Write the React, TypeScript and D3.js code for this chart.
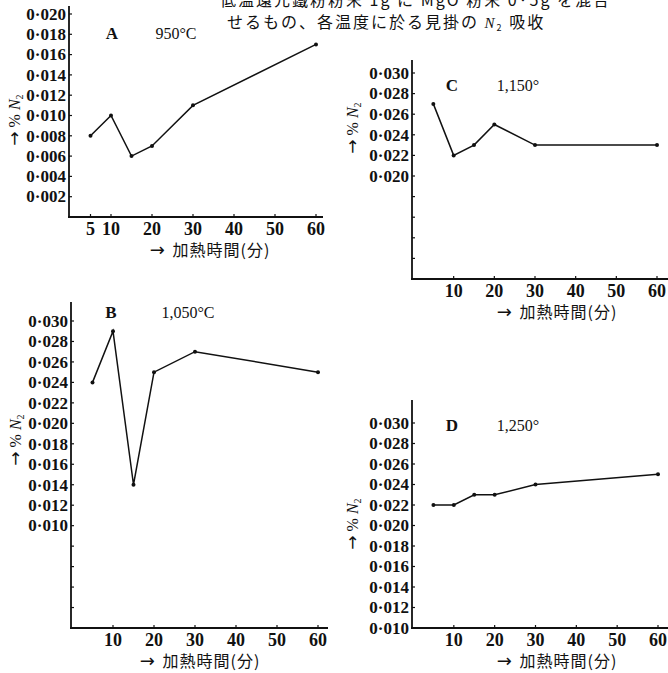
import React from 'react';
import * as d3 from 'd3';

const width = 668;
const height = 673;

// heating time (minutes) shared by all four panels
const minutes = [5, 10, 15, 20, 30, 60];

// apparent N2 absorption (%) per temperature
const n2A = [0.008, 0.010, 0.006, 0.007, 0.011, 0.017]; // 950°C
const n2B = [0.024, 0.029, 0.014, 0.025, 0.027, 0.025]; // 1,050°C
const n2C = [0.027, 0.022, 0.023, 0.025, 0.023, 0.023]; // 1,150°
const n2D = [0.022, 0.022, 0.023, 0.023, 0.024, 0.025]; // 1,250°

const xTicksA = [5, 10, 20, 30, 40, 50, 60];
const xTicksOther = [10, 20, 30, 40, 50, 60];
const yTicksA = [0.002, 0.004, 0.006, 0.008, 0.010, 0.012, 0.014, 0.016, 0.018, 0.020];
const yTicksB = [0.002, 0.004, 0.006, 0.008, 0.010, 0.012, 0.014, 0.016, 0.018, 0.020, 0.022, 0.024, 0.026, 0.028, 0.030];
const yTicksC = [0.012, 0.014, 0.016, 0.018, 0.020, 0.022, 0.024, 0.026, 0.028, 0.030];
const yTicksD = [0.010, 0.012, 0.014, 0.016, 0.018, 0.020, 0.022, 0.024, 0.026, 0.028, 0.030];

const titleLine1 = '低温還元鐵粉粉末 1g に MgO 粉末 0·5g を混合';
const titleLine2a = 'せるもの、各温度に於る見掛の ';
const titleLine2b = ' 吸收';
const xLabel = '加熱時間(分)';

const serif = '"Liberation Serif", "DejaVu Serif", serif';
const cjk = '"Noto Sans CJK JP", sans-serif';
const arrowFont = '"DejaVu Sans", sans-serif';

const fmt = (v: number) => '0·' + d3.format('03d')(Math.round(v * 1000));

function Panel(props: any) {
  const { values, xRange, yDomain, yRange, axisTop, axisRight, xTicks, yTicks, labelMin,
    letter, letterX, temp, tempX, labelY, yTitleX, yTitleY, xTitleX } = props;

  const x = d3.scaleLinear().domain([0, 60]).range(xRange);
  const y = d3.scaleLinear().domain(yDomain).range(yRange);
  const x0 = xRange[0] - 1;
  const y0 = yRange[0];
  const pts = minutes.map((m, i) => [x(m), y(values[i])] as [number, number]);
  const line = d3.line();

  return (
    <g>
      <line x1={x0} x2={x0} y1={axisTop} y2={y0 + 1} stroke="#111" strokeWidth={1.8} />
      <line x1={x0 - 1} x2={axisRight} y1={y0} y2={y0} stroke="#111" strokeWidth={1.8} />
      {yTicks.map((t: number) => (
        <g key={'y' + t}>
          <line x1={x0} x2={x0 + 3} y1={y(t)} y2={y(t)} stroke="#111" strokeWidth={1.2} />
          {t >= labelMin - 1e-9 &&
            <text x={x0 - 3} y={y(t)} dy="0.34em" textAnchor="end" fontFamily={serif}
              fontSize={17} fontWeight="bold" fill="#111">{fmt(t)}</text>}
        </g>
      ))}
      {xTicks.map((t: number) => (
        <g key={'x' + t}>
          <line x1={x(t)} x2={x(t)} y1={y0} y2={y0 - 3} stroke="#111" strokeWidth={1.2} />
          <text x={x(t)} y={y0 + 18} textAnchor="middle" fontFamily={serif} fontSize={18}
            fontWeight="bold" fill="#111">{t}</text>
        </g>
      ))}
      <path d={line(pts) || ''} fill="none" stroke="#111" strokeWidth={1.5} />
      {pts.map((p, i) => <circle key={i} cx={p[0]} cy={p[1]} r={2} fill="#111" />)}
      <text x={letterX} y={labelY} dy="0.35em" textAnchor="middle" fontFamily={serif}
        fontSize={17} fontWeight="bold" fill="#111">{letter}</text>
      <text x={tempX} y={labelY} dy="0.35em" textAnchor="middle" fontFamily={serif}
        fontSize={16} fill="#111">{temp}</text>
      <text transform={`translate(${yTitleX},${yTitleY}) rotate(-90)`} textAnchor="middle"
        dy="0.35em" fontFamily={serif} fontSize={16} fill="#111">
        <tspan fontFamily={arrowFont} fontSize={17}>→</tspan>
        <tspan> % </tspan>
        <tspan fontStyle="italic">N</tspan>
        <tspan fontSize={10} dy={3}>2</tspan>
      </text>
      <text x={xTitleX} y={y0 + 39} textAnchor="middle" fontFamily={cjk} fontSize={16}
        letterSpacing={1} fill="#111">
        <tspan fontFamily={arrowFont} fontSize={18}>→ </tspan>
        {xLabel}
      </text>
    </g>
  );
}

export default function App() {
  return (
    <svg width={width} height={height} style={{ position: 'absolute', left: 0, top: 0, background: '#fff' }}>
      <rect width={width} height={height} fill="#fff" />
      <text x={220} y={6} fontFamily={cjk} fontSize={16} letterSpacing={2} fill="#111">{titleLine1}</text>
      <text x={227} y={28} fontFamily={cjk} fontSize={16} letterSpacing={2} fill="#111">
        {titleLine2a}
        <tspan fontFamily={serif} fontStyle="italic" fontSize={15}>N</tspan>
        <tspan fontSize={9} dy={3}>2</tspan>
        <tspan dy={-3}>{titleLine2b}</tspan>
      </text>

      <Panel values={n2A} xRange={[70, 316]} yDomain={[0, 0.020]} yRange={[217, 14]}
        axisTop={6} axisRight={323} xTicks={xTicksA} yTicks={yTicksA} labelMin={0.002}
        letter="A" letterX={112} temp="950°C" tempX={176} labelY={33}
        yTitleX={14} yTitleY={120} xTitleX={210} />

      <Panel values={n2C} xRange={[413, 657]} yDomain={[0.010, 0.030]} yRange={[279, 73]}
        axisTop={60} axisRight={668} xTicks={xTicksOther} yTicks={yTicksC} labelMin={0.020}
        letter="C" letterX={452} temp="1,150°" tempX={518} labelY={85}
        yTitleX={352} yTitleY={128} xTitleX={557} />

      <Panel values={n2B} xRange={[72, 318]} yDomain={[0, 0.030]} yRange={[628, 321]}
        axisTop={302} axisRight={328} xTicks={xTicksOther} yTicks={yTicksB} labelMin={0.010}
        letter="B" letterX={111} temp="1,050°C" tempX={188} labelY={312}
        yTitleX={15} yTitleY={440} xTitleX={200} />

      <Panel values={n2D} xRange={[413, 658]} yDomain={[0.010, 0.030]} yRange={[628, 423]}
        axisTop={400} axisRight={668} xTicks={xTicksOther} yTicks={yTicksD} labelMin={0.010}
        letter="D" letterX={452} temp="1,250°" tempX={518} labelY={425}
        yTitleX={352} yTitleY={524} xTitleX={557} />
    </svg>
  );
}
